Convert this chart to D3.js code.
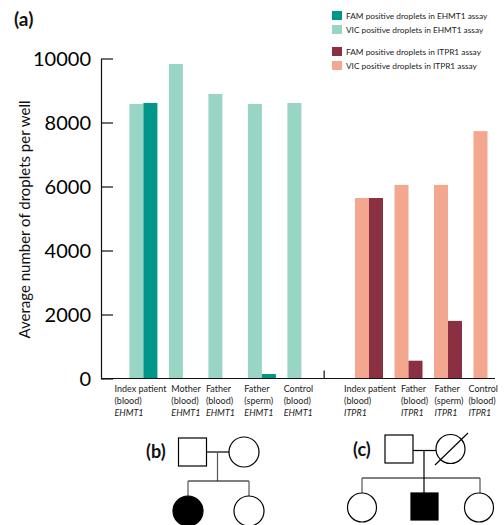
<!DOCTYPE html>
<html>
<head>
<meta charset="utf-8">
<script src="https://cdn.jsdelivr.net/npm/d3@7"></script>
<style>
  html, body { margin: 0; padding: 0; background: #fff; }
  svg { display: block; }
  text { font-family: Lato, "Liberation Sans", sans-serif; }
</style>
</head>
<body>
<script>
// ---------- DATA ----------
const ehmtLabels = [["Index patient", "(blood)"], ["Mother", "(blood)"], ["Father", "(blood)"], ["Father", "(sperm)"], ["Control", "(blood)"]];
const ehmtGene = "EHMT1";
const ehmtVIC = [8580, 9830, 8890, 8580, 8610];
const ehmtFAM = [8610, null, null, 140, null];

const itprLabels = [["Index patient", "(blood)"], ["Father", "(blood)"], ["Father", "(sperm)"], ["Control", "(blood)"]];
const itprGene = "ITPR1";
const itprVIC = [5640, 6050, 6050, 7730];
const itprFAM = [5640, 556, 1800, null];

const yTicks = [0, 2000, 4000, 6000, 8000, 10000];
const yTitle = "Average number of droplets per well";
const legendLabels = [
  "FAM positive droplets in EHMT1 assay",
  "VIC positive droplets in EHMT1 assay",
  "FAM positive droplets in ITPR1 assay",
  "VIC positive droplets in ITPR1 assay"
];
const colors = { ehmtFAM: "#01968A", ehmtVIC: "#99D5C4", itprFAM: "#8A3042", itprVIC: "#F4A78F" };

// ---------- SETUP ----------
const W = 504, H = 525;
const svg = d3.select("body").append("svg").attr("width", W).attr("height", H);

const y = d3.scaleLinear().domain([0, 10000]).range([378.5, 58.5]);
const axisX = 101;

const ehmtX = d3.scaleBand().domain(d3.range(ehmtLabels.length)).range([123.65, 321.15])
  .paddingInner(0.291).paddingOuter(0.1456);
const itprX = d3.scaleBand().domain(d3.range(itprLabels.length)).range([349.25, 507.25])
  .paddingInner(0.291).paddingOuter(0.1456);
const sub = d3.scaleBand().domain(["VIC", "FAM"]).range([0, ehmtX.bandwidth()]);

// ---------- AXIS ----------
const yAxis = d3.axisLeft(y).tickValues(yTicks).tickSize(-12).tickSizeOuter(0).tickPadding(10)
  .tickFormat(d3.format("d"));
const ga = svg.append("g").attr("transform", `translate(${axisX},0)`).call(yAxis);
ga.select(".domain").attr("stroke", "#111").attr("stroke-width", 1.2);
ga.selectAll(".tick line").attr("stroke", "#111").attr("stroke-width", 1.2);
ga.selectAll(".tick text").attr("font-family", "Lato, 'Liberation Sans', sans-serif")
  .attr("font-size", 20).attr("fill", "#000").attr("dy", "0.36em");

svg.append("text")
  .attr("transform", `translate(30,${(y.range()[0] + y.range()[1]) / 2 + 1}) rotate(-90)`)
  .attr("text-anchor", "middle").attr("font-size", 15).attr("fill", "#111").text(yTitle);

// ---------- BARS ----------
function drawGroup(xs, vic, fam, cVIC, cFAM) {
  const g = svg.append("g");
  g.selectAll("rect.vic").data(vic).join("rect").attr("class", "vic")
    .attr("x", (d, i) => xs(i) + sub("VIC")).attr("width", sub.bandwidth())
    .attr("y", d => y(d)).attr("height", d => y(0) - y(d)).attr("fill", cVIC);
  g.selectAll("rect.fam").data(fam.map((v, i) => ({ v, i })).filter(d => d.v != null)).join("rect").attr("class", "fam")
    .attr("x", d => xs(d.i) + sub("FAM")).attr("width", sub.bandwidth())
    .attr("y", d => y(d.v)).attr("height", d => y(0) - y(d.v)).attr("fill", cFAM);
}
drawGroup(ehmtX, ehmtVIC, ehmtFAM, colors.ehmtVIC, colors.ehmtFAM);
drawGroup(itprX, itprVIC, itprFAM, colors.itprVIC, colors.itprFAM);

// baseline and separator
svg.append("line").attr("x1", axisX).attr("x2", 495).attr("y1", y(0)).attr("y2", y(0))
  .attr("stroke", "#111").attr("stroke-width", 1.2);
const sepX = ehmtX.range()[1] + 3;
svg.append("line").attr("x1", sepX).attr("x2", sepX).attr("y1", y(0) - 8).attr("y2", y(0))
  .attr("stroke", "#111").attr("stroke-width", 1.2);

// ---------- CATEGORY LABELS ----------
function drawLabels(xs, labels, gene, shift, maxRight) {
  let prevEnd = -Infinity;
  labels.forEach((lines, i) => {
    const g = svg.append("g");
    const all = [...lines, gene];
    const t = g.selectAll("text").data(all).join("text")
      .attr("x", 0).attr("y", (d, k) => 392 + k * 12)
      .attr("font-size", 9).attr("fill", "#222")
      .attr("font-style", (d, k) => k === 2 ? "italic" : "normal")
      .text(d => d);
    let mw = 0;
    t.each(function () { mw = Math.max(mw, this.getComputedTextLength()); });
    const cx = xs(i) + xs.bandwidth() / 2 + shift;
    let x0 = cx - mw / 2;
    if (x0 < prevEnd + 5) x0 = prevEnd + 5;
    if (x0 + mw > maxRight) x0 = maxRight - mw;
    prevEnd = x0 + mw;
    g.attr("transform", `translate(${x0},0)`);
  });
}
drawLabels(ehmtX, ehmtLabels, ehmtGene, -3, 320);
drawLabels(itprX, itprLabels, itprGene, 1, 498);

// ---------- TITLE ----------
svg.append("text").attr("x", 14).attr("y", 26).attr("font-size", 19).attr("font-weight", "bold")
  .attr("fill", "#111").text("(a)");

// ---------- LEGEND ----------
const legendColors = [colors.ehmtFAM, colors.ehmtVIC, colors.itprFAM, colors.itprVIC];
const legendY = [11, 25, 47, 61];
const lg = svg.append("g");
legendLabels.forEach((lab, i) => {
  lg.append("rect").attr("x", 332).attr("y", legendY[i]).attr("width", 10).attr("height", 9).attr("fill", legendColors[i]);
  lg.append("text").attr("x", 346).attr("y", legendY[i] + 8).attr("font-size", 8.3).attr("fill", "#222").text(lab);
});

// ---------- PEDIGREES ----------
const ped = svg.append("g").attr("stroke", "#000").attr("stroke-width", 1.2).attr("fill", "none");
function line(x1, y1, x2, y2, c) { ped.append("line").attr("x1", x1).attr("y1", y1).attr("x2", x2).attr("y2", y2).attr("stroke", c || "#000"); }
function sq(cx, cy, s, fill) { ped.append("rect").attr("x", cx - s / 2).attr("y", cy - s / 2).attr("width", s).attr("height", s).attr("fill", fill || "#fff"); }
function ci(cx, cy, r, fill) { ped.append("circle").attr("cx", cx).attr("cy", cy).attr("r", r).attr("fill", fill || "#fff"); }

// (b)
svg.append("text").attr("x", 146).attr("y", 458).attr("font-size", 18).attr("font-weight", "bold").attr("fill", "#111").text("(b)");
line(206, 452, 229, 452);
line(217.5, 452, 217.5, 481, "#555");
line(188, 481, 249, 481);
line(188, 481, 188, 496, "#555");
line(249, 481, 249, 496, "#555");
sq(192.5, 452, 28);
ci(244, 452, 15);
ci(188, 511, 15, "#000");
ci(249, 511, 15);

// (c)
svg.append("text").attr("x", 353).attr("y", 456).attr("font-size", 18).attr("font-weight", "bold").attr("fill", "#111").text("(c)");
line(413, 450.5, 436, 450.5);
line(424, 450.5, 424, 478);
line(362, 478, 480, 478);
line(362, 478, 362, 493, "#555");
line(424, 478, 424, 493);
line(480, 478, 480, 493, "#555");
sq(399, 449, 28);
ci(450.5, 449, 14.5);
line(435, 465, 468, 433);
ci(362, 507.5, 14.5);
sq(424.5, 506.5, 27, "#000");
ci(479, 507.5, 14.5);
</script>
</body>
</html>
